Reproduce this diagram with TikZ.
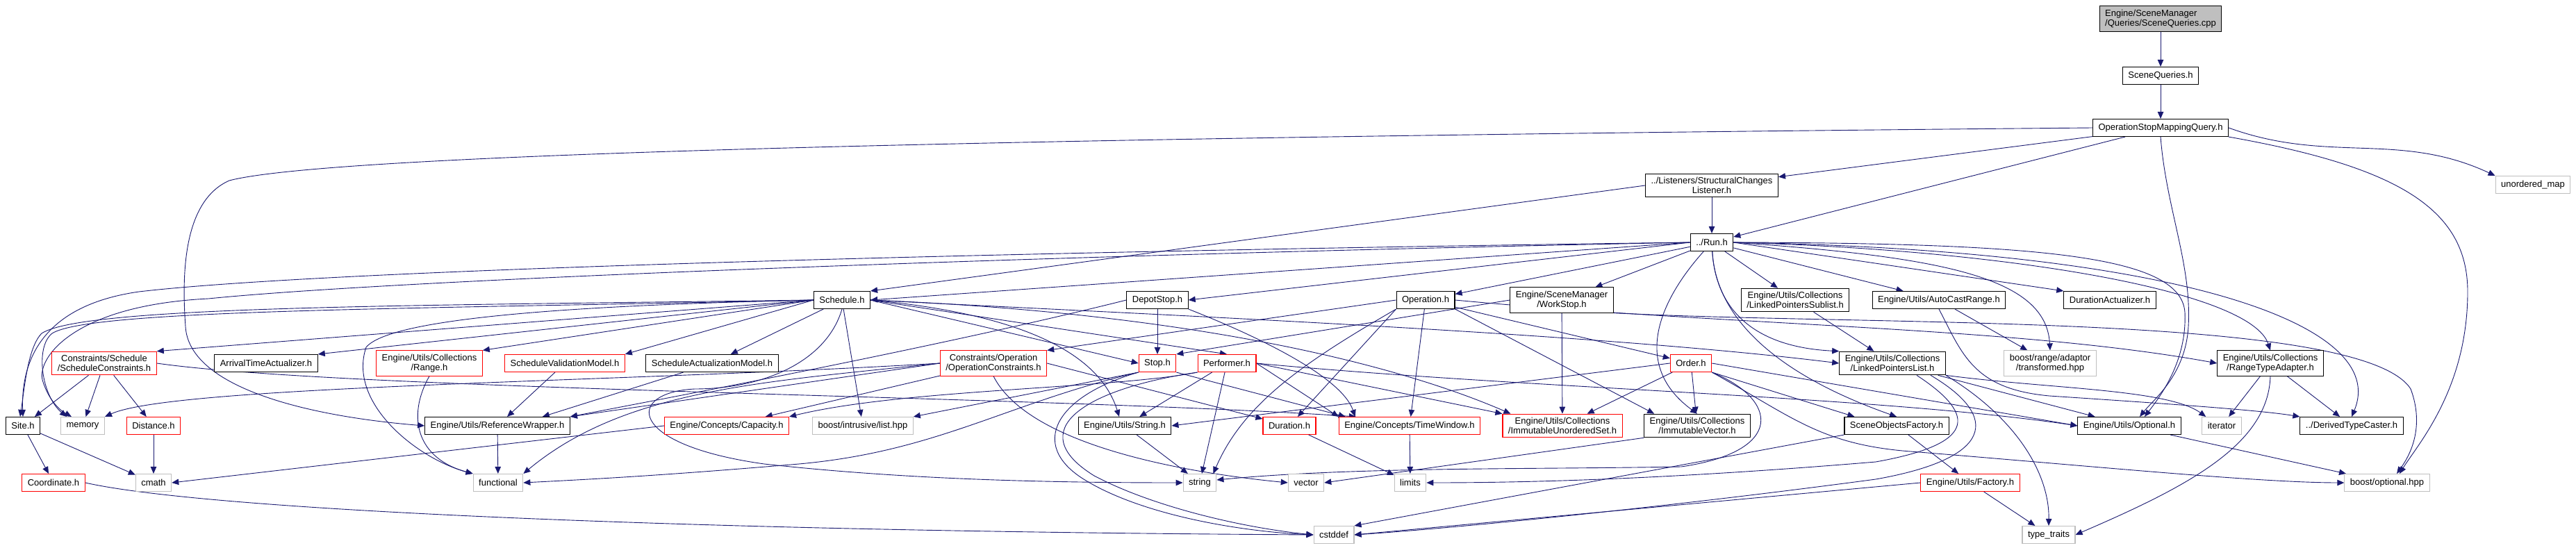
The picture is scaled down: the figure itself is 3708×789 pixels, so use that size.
\documentclass[tikz,border=0pt]{standalone}
\usepackage{fontspec}
\setmainfont{Liberation Sans}
\usetikzlibrary{arrows.meta,backgrounds}
\definecolor{edgeblue}{HTML}{191970}
\definecolor{sysgray}{HTML}{BFBFBF}

\begin{document}
\begin{tikzpicture}[x=1pt, y=-1pt,
  hdr/.style={rectangle, draw=#1, fill=white, line width=1.1pt, minimum height=25pt, inner xsep=8pt, inner ysep=5pt, align=center, font=\fontsize{13}{14}\selectfont},
  hdr/.default=black,
  arr/.style={-{Triangle[length=10pt,width=8.5pt]}, draw=edgeblue, line width=0.9pt}
]
  \useasboundingbox (0,0) rectangle (3708,789);

  \node[hdr, fill=sysgray, align=left] (root) at (3110,27) {Engine/SceneManager\\/Queries/SceneQueries.cpp};
  \node[hdr] (sq) at (3110,109) {SceneQueries.h};
  \node[hdr] (osmq) at (3110,184) {OperationStopMappingQuery.h};
  \node[hdr] (lis) at (2464,267) {../Listeners/StructuralChanges\\Listener.h};
  \node[hdr=sysgray] (umap) at (3646,266) {unordered\_map};
  \node[hdr] (run) at (2464,349) {../Run.h};

  \node[hdr] (sched) at (1212,432) {Schedule.h};
  \node[hdr] (depot) at (1666,432) {DepotStop.h};
  \node[hdr] (oper) at (2052,432) {Operation.h};
  \node[hdr] (work) at (2248,432) {Engine/SceneManager\\/WorkStop.h};
  \node[hdr] (lpsub) at (2584,432) {Engine/Utils/Collections\\/LinkedPointersSublist.h};
  \node[hdr] (acr) at (2791,432) {Engine/Utils/AutoCastRange.h};
  \node[hdr] (dact) at (3037,432) {DurationActualizer.h};

  \node[hdr=red] (sc) at (150,523) {Constraints/Schedule\\/ScheduleConstraints.h};
  \node[hdr] (ata) at (383,523) {ArrivalTimeActualizer.h};
  \node[hdr=red] (range) at (618,523) {Engine/Utils/Collections\\/Range.h};
  \node[hdr=red] (svm) at (813,523) {ScheduleValidationModel.h};
  \node[hdr] (sam) at (1025,523) {ScheduleActualizationModel.h};
  \node[hdr=red] (oc) at (1430,523) {Constraints/Operation\\/OperationConstraints.h};
  \node[hdr=red] (stop) at (1666,523) {Stop.h};
  \node[hdr=red] (perf) at (1766,523) {Performer.h};
  \node[hdr=red] (order) at (2434,523) {Order.h};
  \node[hdr] (lpl) at (2724,523) {Engine/Utils/Collections\\/LinkedPointersList.h};
  \node[hdr=sysgray] (trans) at (2951,523) {boost/range/adaptor\\/transformed.hpp};
  \node[hdr] (rta) at (3268,523) {Engine/Utils/Collections\\/RangeTypeAdapter.h};

  \node[hdr] (site) at (33,613) {Site.h};
  \node[hdr=sysgray] (mem) at (119,613) {memory};
  \node[hdr=red] (dist) at (221,613) {Distance.h};
  \node[hdr] (refw) at (716,613) {Engine/Utils/ReferenceWrapper.h};
  \node[hdr=red] (cap) at (1046,613) {Engine/Concepts/Capacity.h};
  \node[hdr=sysgray] (ilist) at (1242,613) {boost/intrusive/list.hpp};
  \node[hdr] (str) at (1619,613) {Engine/Utils/String.h};
  \node[hdr=red] (dur) at (1856,613) {Duration.h};
  \node[hdr=red] (tw) at (2029,613) {Engine/Concepts/TimeWindow.h};
  \node[hdr=red] (ius) at (2249,613) {Engine/Utils/Collections\\/ImmutableUnorderedSet.h};
  \node[hdr] (iv) at (2443,613) {Engine/Utils/Collections\\/ImmutableVector.h};
  \node[hdr] (sof) at (2730,613) {SceneObjectsFactory.h};
  \node[hdr] (opt) at (3065,613) {Engine/Utils/Optional.h};
  \node[hdr=sysgray] (iter) at (3198,613) {iterator};
  \node[hdr] (dtc) at (3385,613) {../DerivedTypeCaster.h};

  \node[hdr=red] (coord) at (77,695) {Coordinate.h};
  \node[hdr=sysgray] (cmath) at (221,695) {cmath};
  \node[hdr=sysgray] (func) at (717,695) {functional};
  \node[hdr=sysgray] (string) at (1727,695) {string};
  \node[hdr=sysgray] (vec) at (1880,695) {vector};
  \node[hdr=sysgray] (limits) at (2030,695) {limits};
  \node[hdr=red] (fact) at (2836,695) {Engine/Utils/Factory.h};
  \node[hdr=sysgray] (bopt) at (3436,695) {boost/optional.hpp};

  \node[hdr=sysgray] (cstddef) at (1920,770) {cstddef};
  \node[hdr=sysgray] (tt) at (2949,770) {type\_traits};

  \begin{scope}[on background layer]
  \draw[arr] (root) -- (sq);
  \draw[arr] (sq) -- (osmq);
  \draw[arr] (osmq) -- (lis);
  \draw[arr] (osmq) -- (run);
  \draw[arr] (osmq.east) to[out=-20,in=155] (umap.north west);
  \draw[arr] (osmq.south) .. controls (3118,300) and (3155,380) .. (3150,470) .. controls (3146,540) and (3100,575) .. ([xshift=15pt]opt.north);
  \draw[arr] (osmq.south east) .. controls (3450,240) and (3552,300) .. (3552,420) .. controls (3552,560) and (3480,640) .. ([xshift=18pt]bopt.north);
  \draw[arr] (osmq.west) .. controls (1800,195) and (500,215) .. (330,260) .. controls (262,290) and (262,400) .. (267,470) .. controls (272,560) and (450,600) .. (refw.west);

  \draw[arr] (lis) -- (run);
  \draw[arr] (lis.west) -- (sched.north east);

  \draw[arr] (run.west) -- (sched.east);
  \draw[arr] (run.west) -- (depot.east);
  \draw[arr] (run) -- (oper);
  \draw[arr] (run) -- (work);
  \draw[arr] (run) -- (lpsub);
  \draw[arr] (run) -- (acr);
  \draw[arr] (run.east) -- (dact.north west);
  \draw[arr] (run.east) .. controls (2800,370) and (2945,400) .. (trans.north);
  \draw[arr] (run.east) .. controls (2900,360) and (3240,420) .. (rta.north);
  \draw[arr] (run.east) .. controls (3150,360) and (3440,470) .. (dtc.north);
  \draw[arr] (run.east) .. controls (2950,350) and (3140,370) .. (3145,450) .. controls (3148,520) and (3110,570) .. ([xshift=22pt]opt.north);
  \draw[arr] (run) .. controls (2470,460) and (2560,540) .. (sof.north);
  \draw[arr] (run) .. controls (2400,420) and (2340,520) .. (iv.north);
  \draw[arr] (run) .. controls (2470,450) and (2530,500) .. (lpl.north west);
  \draw[arr] (run.west) .. controls (1600,360) and (500,385) .. (200,420) .. controls (60,440) and (30,520) .. (site.north);
  \draw[arr] (run.west) .. controls (1600,365) and (600,400) .. (300,430) .. controls (100,440) and (50,520) .. (62,550) .. controls (70,575) and (85,590) .. ([xshift=16pt]mem.north west);

  \draw[arr] (sched.west) .. controls (600,440) and (120,440) .. (60,480) .. controls (40,500) and (35,560) .. ([xshift=-4pt]site.north);
  \draw[arr] (sched.west) .. controls (600,445) and (130,445) .. (75,480) .. controls (50,500) and (60,570) .. ([xshift=9pt]mem.north west);
  \draw[arr] (sched.west) -- (sc.north east);
  \draw[arr] (sched.west) -- (ata.north east);
  \draw[arr] (sched.west) -- (range.north east);
  \draw[arr] (sched.west) -- (svm.north east);
  \draw[arr] (sched) -- (sam);
  \draw[arr] (sched.west) .. controls (800,440) and (560,460) .. (527,500) .. controls (500,580) and (600,660) .. (func.north west);
  \draw[arr] (sched) -- (ilist);
  \draw[arr] (sched.south) .. controls (1190,520) and (1100,560) .. (1000,560) .. controls (900,565) and (900,640) .. (1100,668) .. controls (1300,690) and (1500,695) .. (string.west);
  \draw[arr] (sched.east) -- (stop.west);
  \draw[arr] (sched.east) -- (perf.north);
  \draw[arr] (sched.east) .. controls (1450,450) and (1580,500) .. ([xshift=-8pt]str.north);
  \draw[arr] (sched.east) .. controls (1700,455) and (2300,480) .. (lpl.west);
  \draw[arr] (sched.east) .. controls (1700,450) and (2000,520) .. ([xshift=12pt]ius.north west);

  \draw[arr] (depot) -- (stop);
  \draw[arr] (depot.west) .. controls (1350,500) and (950,575) .. (refw.north east);
  \draw[arr] (depot.south east) .. controls (1800,480) and (1930,540) .. ([xshift=24pt]tw.north west);

  \draw[arr] (oper) -- (order);
  \draw[arr] (oper.west) -- (oc.north east);
  \draw[arr] (oper.south west) -- (dur);
  \draw[arr] (oper) -- (tw);
  \draw[arr] (oper.south west) .. controls (1880,520) and (1790,580) .. ([xshift=-5pt]string.north east);
  \draw[arr] (oper.south east) -- ([xshift=15pt]iv.north west);
  \draw[arr] (oper.east) .. controls (2500,470) and (2900,470) .. (rta.west);

  \draw[arr] (work) -- (ius);
  \draw[arr] (work.west) -- (stop.north east);
  \draw[arr] (work.south east) .. controls (2700,470) and (3400,450) .. (3470,560) .. controls (3485,600) and (3480,640) .. ([xshift=14pt]bopt.north);

  \draw[arr] (lpsub) -- (lpl);
  \draw[arr] (acr) -- (trans);
  \draw[arr] (acr.south) .. controls (2825,510) and (2840,560) .. (2950,570) .. controls (3100,580) and (3250,590) .. (dtc.north west);

  \draw[arr] (rta) -- (iter);
  \draw[arr] (rta) -- (dtc);
  \draw[arr] (rta.south) .. controls (3265,640) and (3150,700) .. (tt.east);

  \draw[arr] (lpl.south east) .. controls (2950,560) and (3120,560) .. ([xshift=6pt]iter.north west);
  \draw[arr] (lpl) -- (opt);
  \draw[arr] (lpl.south east) .. controls (2900,600) and (2950,680) .. (tt.north);
  \draw[arr] ([xshift=35pt]lpl.south) .. controls (2850,600) and (2840,640) .. (2700,665) .. controls (2400,690) and (2200,695) .. (limits.east);
  \draw[arr] ([xshift=55pt]lpl.south) .. controls (2880,600) and (2870,660) .. (2700,690) .. controls (2400,730) and (2100,760) .. (cstddef.east);

  \draw[arr] (sof) -- (fact);
  \draw[arr] (sof.south west) -- (cstddef.north east);
  \draw[arr] (fact) -- (tt);
  \draw[arr] (fact.west) -- (cstddef.east);

  \draw[arr] (order) -- (iv);
  \draw[arr] (order) -- (ius);
  \draw[arr] (order.west) -- (str.east);
  \draw[arr] (order.south east) -- ([xshift=15pt]sof.north west);
  \draw[arr] (order.east) -- (opt.west);
  \draw[arr] (order.south east) .. controls (2560,575) and (2570,650) .. (2420,672) .. controls (2200,676) and (1950,672) .. ([yshift=4pt]string.east);
  \draw[arr] (order.south east) .. controls (2580,600) and (2620,640) .. (2750,650) .. controls (3000,670) and (3250,695) .. (bopt.west);

  \draw[arr] (perf) -- (str);
  \draw[arr] (perf) -- (string);
  \draw[arr] (perf.south west) .. controls (1600,560) and (1300,560) .. (cap.north east);
  \draw[arr] (perf.south west) .. controls (1560,560) and (1470,620) .. (1575,685) .. controls (1660,730) and (1790,760) .. (cstddef.west);
  \draw[arr] (perf.east) -- (tw.north west);
  \draw[arr] (perf.east) -- (ius.north west);
  \draw[arr] (perf.east) .. controls (2200,560) and (2700,570) .. (opt.west);

  \draw[arr] (stop.south west) -- (ilist.north east);
  \draw[arr] (stop.south east) -- ([xshift=10pt]tw.north west);
  \draw[arr] (stop.south west) .. controls (1450,580) and (1350,650) .. (1150,668) .. controls (950,685) and (850,690) .. (func.east);
  \draw[arr] (stop.south west) .. controls (1520,570) and (1480,640) .. (1560,690) .. controls (1640,740) and (1780,765) .. (cstddef.west);

  \draw[arr] (oc.west) .. controls (900,550) and (250,555) .. (mem.north east);
  \draw[arr] (oc) -- (cap);
  \draw[arr] (oc.west) -- (refw.north east);
  \draw[arr] (oc.west) .. controls (1100,550) and (900,560) .. (func.north east);
  \draw[arr] (oc.east) -- (dur);
  \draw[arr] (oc.south) .. controls (1480,640) and (1700,680) .. (vec.west);

  \draw[arr] (sc) -- (site);
  \draw[arr] (sc) -- (mem);
  \draw[arr] (sc) -- (dist);
  \draw[arr] (sc.east) .. controls (500,562) and (1500,570) .. ([xshift=25pt]tw.north west);

  \draw[arr] (range.south) .. controls (585,600) and (600,660) .. (func.north west);
  \draw[arr] (svm) -- (refw);
  \draw[arr] (sam) -- ([xshift=-40pt]refw.north east);
  \draw[arr] (refw) -- (func);
  \draw[arr] (site) -- (coord);
  \draw[arr] (site) -- (cmath);
  \draw[arr] (dist) -- (cmath);
  \draw[arr] (cap.west) -- (cmath.east);
  \draw[arr] (coord.east) .. controls (300,735) and (1000,765) .. (cstddef.west);
  \draw[arr] (str) -- (string);
  \draw[arr] (iv.south west) -- (vec.east);
  \draw[arr] (dur) -- (limits);
  \draw[arr] (tw) -- (limits);
  \draw[arr] (opt) -- (bopt);
  \end{scope}
\end{tikzpicture}
\end{document}
